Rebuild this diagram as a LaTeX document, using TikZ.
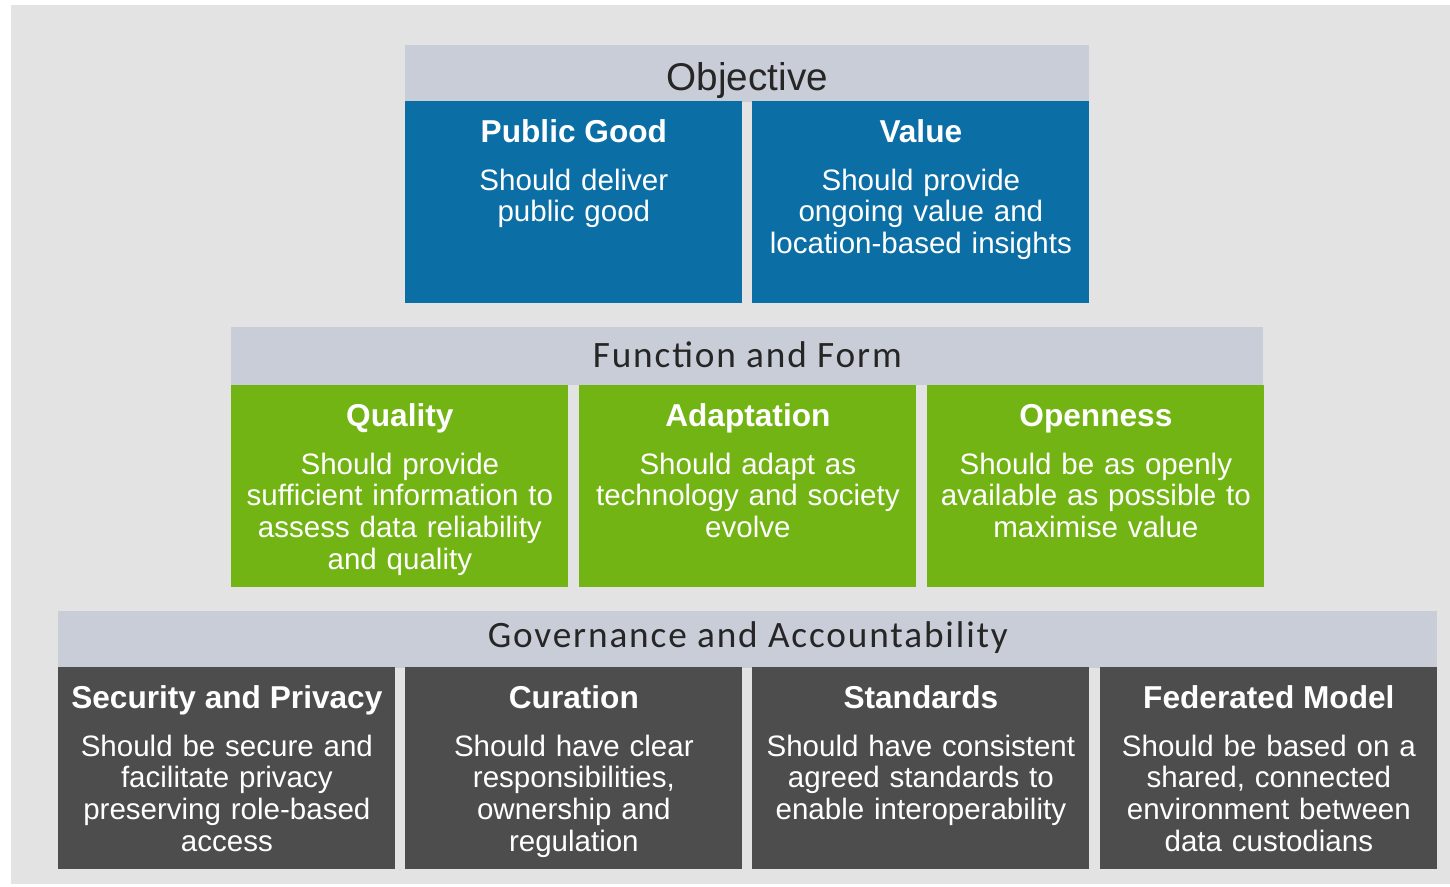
\documentclass[tikz,border=0pt]{standalone}
\usepackage{fontspec}
\setmainfont{Liberation Sans}
\newfontfamily\tierfont[LetterSpace=5]{Carlito}
\usetikzlibrary{positioning}

\definecolor{pagegray}{RGB}{227,227,227}
\definecolor{bandgray}{RGB}{200,205,216}
\definecolor{pillarblue}{RGB}{11,111,166}
\definecolor{pillargreen}{RGB}{114,180,20}
\definecolor{pillardark}{RGB}{77,77,77}

\tikzset{
  pillarbox/.style={anchor=north west, inner sep=0pt, minimum width=67.4mm, minimum height=40.3mm},
  pillartitle/.style={anchor=base, inner sep=0pt, text=white, font=\fontsize{18}{20}\selectfont\bfseries},
  pillartext/.style={anchor=base, inner sep=0pt, text=white, align=center, text width=66mm,
    font=\fontsize{16.8}{18.2}\selectfont},
  band/.style={anchor=north west, inner sep=0pt, fill=bandgray, minimum height=11.3mm},
  bandlabel/.style={anchor=base, inner sep=0pt, text=black!85}
}

% one coloured block: name, top-left corner, fill, heading, text
\newcommand{\pillar}[5]{%
  \node[pillarbox, fill=#3] (#1) at (#2) {};
  \node[pillartitle] (#1-title) at ([yshift=-8.2mm]#1.north) {#4};
  \node[pillartext] (#1-text) at ([yshift=-17.8mm]#1.north) {#5};
}

\begin{document}
\begin{tikzpicture}[x=0.2mm,y=-0.2mm]

\fill[white] (0,0) rectangle (1450,886);
\fill[pagegray] (11,5) rectangle (1450,884);

% objective
\node[band, minimum width=136.8mm] (objective) at (405,45) {};
\node[bandlabel, font=\fontsize{22}{24}\selectfont] (objective-label) at ([yshift=-9mm]objective.north) {Objective};
\pillar{publicgood}{405,101}{pillarblue}{Public Good}{Should deliver\\public good}
\pillar{value}{752,101}{pillarblue}{Value}{Should provide\\ongoing value and\\location-based insights}

% function and form
\node[band, minimum width=206.4mm, minimum height=11.6mm] (form) at (231,327) {};
\node[bandlabel, font=\tierfont\fontsize{21.2}{23}\selectfont] (form-label) at ([yshift=-8.1mm]form.north) {Function and Form};
\pillar{quality}{231,385}{pillargreen}{Quality}{Should provide\\sufficient information to\\assess data reliability\\and quality}
\pillar{adaptation}{579,385}{pillargreen}{Adaptation}{Should adapt as\\technology and society\\evolve}
\pillar{openness}{927,385}{pillargreen}{Openness}{Should be as openly\\available as possible to\\maximise value}

% governance and accountability
\node[band, minimum width=275.8mm] (governance) at (58,611) {};
\node[bandlabel, font=\tierfont\fontsize{21.2}{23}\selectfont] (governance-label) at ([yshift=-7.3mm]governance.north) {Governance and Accountability};
\pillar{security}{58,667}{pillardark}{Security and Privacy}{Should be secure and\\facilitate privacy\\preserving role-based\\access}
\pillar{curation}{405,667}{pillardark}{Curation}{Should have clear\\responsibilities,\\ownership and\\regulation}
\pillar{standards}{752,667}{pillardark}{Standards}{Should have consistent\\agreed standards to\\enable interoperability}
\pillar{federated}{1100,667}{pillardark}{Federated Model}{Should be based on a\\shared, connected\\environment between\\data custodians}

\end{tikzpicture}
\end{document}
